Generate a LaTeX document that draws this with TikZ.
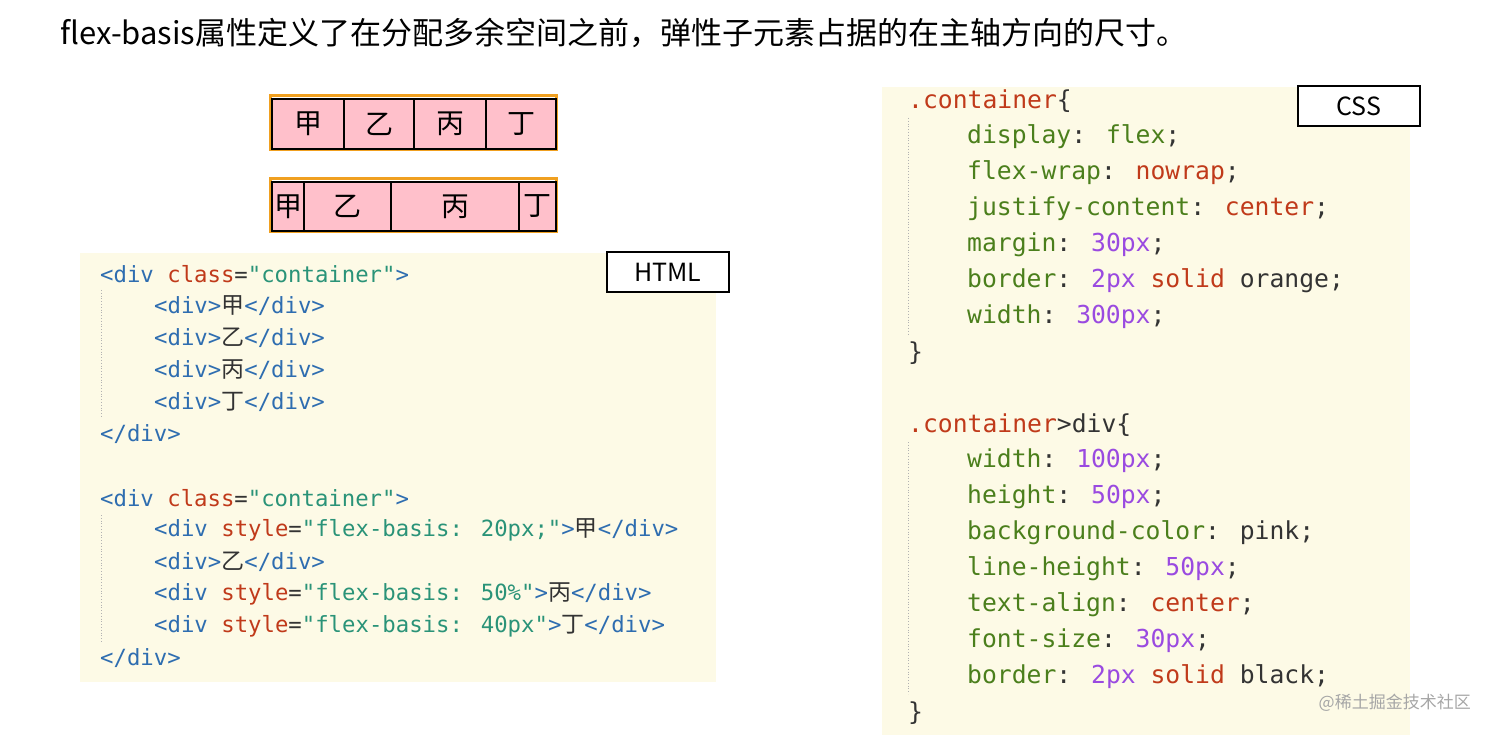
\documentclass[tikz,border=0pt]{standalone}
\usepackage{fontspec}
\setmainfont{Noto Sans CJK SC}
\newfontfamily\cjk{Noto Sans CJK SC}
\newfontfamily\codef{DejaVu Sans Mono}
\definecolor{bgc}{HTML}{FDFAE6}
\definecolor{tagc}{HTML}{2E6DB0}
\definecolor{attrc}{HTML}{C03A1A}
\definecolor{strc}{HTML}{2A9378}
\definecolor{propc}{HTML}{4B7F1C}
\definecolor{numc}{HTML}{9A4AE0}
\definecolor{txtc}{HTML}{333333}
\definecolor{pinkc}{HTML}{FFC0CB}
\definecolor{orangec}{HTML}{F0A020}
\newcommand{\cTag}[1]{\textcolor{tagc}{#1}}
\newcommand{\cAtt}[1]{\textcolor{attrc}{#1}}
\newcommand{\cStr}[1]{\textcolor{strc}{#1}}
\newcommand{\cPrp}[1]{\textcolor{propc}{#1}}
\newcommand{\cNum}[1]{\textcolor{numc}{#1}}
\newcommand{\cHan}[1]{{\cjk\fontsize{23}{23}\selectfont #1}}
\begin{document}
\begin{tikzpicture}[x=1pt,y=-1pt,
  hl/.style={anchor=west,inner sep=0pt,text=txtc,font=\codef\fontsize{22.3}{22.3}\selectfont},
  cl/.style={anchor=west,inner sep=0pt,text=txtc,font=\codef\fontsize{24.7}{24.7}\selectfont},
  cell/.style={draw=black,line width=2pt,fill=pinkc,inner sep=0pt,font=\cjk\fontsize{28}{28}\selectfont},
  lab/.style={draw=black,line width=2pt,fill=white,inner sep=0pt,font=\fontsize{25}{25}\selectfont}]
\useasboundingbox (0,0) rectangle (1492,735);
\node[anchor=west,inner sep=0pt,font=\fontsize{31}{31}\selectfont] (title) at (60,33) {flex-basis属性定义了在分配多余空间之前，弹性子元素占据的在主轴方向的尺寸。};
% boxes
\draw[orangec,line width=3pt] (270,96) rectangle (556,150);
\foreach \a/\b/\t [count=\i] in {271/343/甲,343/413/乙,413/485/丙,485/555/丁}
  \node[cell,minimum width=\b-\a,minimum height=50,anchor=north west] (r\i) at (\a,98) {\t};
\draw[orangec,line width=3pt] (270,179) rectangle (556,232);
\foreach \a/\b/\t [count=\i] in {271/303/甲,303/390/乙,390/518/丙,518/555/丁}
  \node[cell,minimum width=\b-\a,minimum height=49,anchor=north west] (s\i) at (\a,181) {\t};
% code bgs
\fill[bgc] (80,253) rectangle (716,682);
\fill[bgc] (882,87) rectangle (1410,735);
\draw[gray!60,dotted,line width=0.8pt] (101,290) -- (101,418);
\draw[gray!60,dotted,line width=0.8pt] (101,515) -- (101,642);
\draw[gray!60,dotted,line width=0.8pt] (908,118) -- (908,334);
\draw[gray!60,dotted,line width=0.8pt] (908,442) -- (908,694);
% HTML
\node[hl] (h1) at (100,274) {\cTag{<div} \cAtt{class}=\cStr{"container"}\cTag{>}};
\node[hl] (h2) at (154,306) {\cTag{<div>}\cHan{甲}\cTag{</div>}};
\node[hl] (h3) at (154,338) {\cTag{<div>}\cHan{乙}\cTag{</div>}};
\node[hl] (h4) at (154,370) {\cTag{<div>}\cHan{丙}\cTag{</div>}};
\node[hl] (h5) at (154,402) {\cTag{<div>}\cHan{丁}\cTag{</div>}};
\node[hl] (h6) at (100,434) {\cTag{</div>}};
\node[hl] (h7) at (100,498) {\cTag{<div} \cAtt{class}=\cStr{"container"}\cTag{>}};
\node[hl] (h8) at (154,530) {\cTag{<div} \cAtt{style}=\cStr{"flex-basis: 20px;"}\cTag{>}\cHan{甲}\cTag{</div>}};
\node[hl] (h9) at (154,562) {\cTag{<div>}\cHan{乙}\cTag{</div>}};
\node[hl] (h10) at (154,594) {\cTag{<div} \cAtt{style}=\cStr{"flex-basis: 50\%"}\cTag{>}\cHan{丙}\cTag{</div>}};
\node[hl] (h11) at (154,626) {\cTag{<div} \cAtt{style}=\cStr{"flex-basis: 40px"}\cTag{>}\cHan{丁}\cTag{</div>}};
\node[hl] (h12) at (100,658) {\cTag{</div>}};
\node[lab,minimum width=122,minimum height=40,anchor=north west] (html) at (606,251) {HTML};
% CSS
\node[cl] (c1) at (908,101) {\cAtt{.container}\{};
\node[cl] (c2) at (967,137) {\cPrp{display}: \cPrp{flex};};
\node[cl] (c3) at (967,173) {\cPrp{flex-wrap}: \cAtt{nowrap};};
\node[cl] (c4) at (967,209) {\cPrp{justify-content}: \cAtt{center};};
\node[cl] (c5) at (967,245) {\cPrp{margin}: \cNum{30px};};
\node[cl] (c6) at (967,281) {\cPrp{border}: \cNum{2px} \cAtt{solid} orange;};
\node[cl] (c7) at (967,317) {\cPrp{width}: \cNum{300px};};
\node[cl] (c8) at (908,353) {\}};
\node[cl] (c9) at (908,425) {\cAtt{.container}>div\{};
\node[cl] (c10) at (967,461) {\cPrp{width}: \cNum{100px};};
\node[cl] (c11) at (967,497) {\cPrp{height}: \cNum{50px};};
\node[cl] (c12) at (967,533) {\cPrp{background-color}: pink;};
\node[cl] (c13) at (967,569) {\cPrp{line-height}: \cNum{50px};};
\node[cl] (c14) at (967,605) {\cPrp{text-align}: \cAtt{center};};
\node[cl] (c15) at (967,641) {\cPrp{font-size}: \cNum{30px};};
\node[cl] (c16) at (967,677) {\cPrp{border}: \cNum{2px} \cAtt{solid} black;};
\node[cl] (c17) at (908,713) {\}};
\node[lab,minimum width=122,minimum height=40,anchor=north west] (css) at (1297,85) {CSS};
\node[anchor=east,inner sep=0pt,text=gray!70,font=\fontsize{17}{17}\selectfont] (wm) at (1471,703) {@稀土掘金技术社区};
\end{tikzpicture}
\end{document}
